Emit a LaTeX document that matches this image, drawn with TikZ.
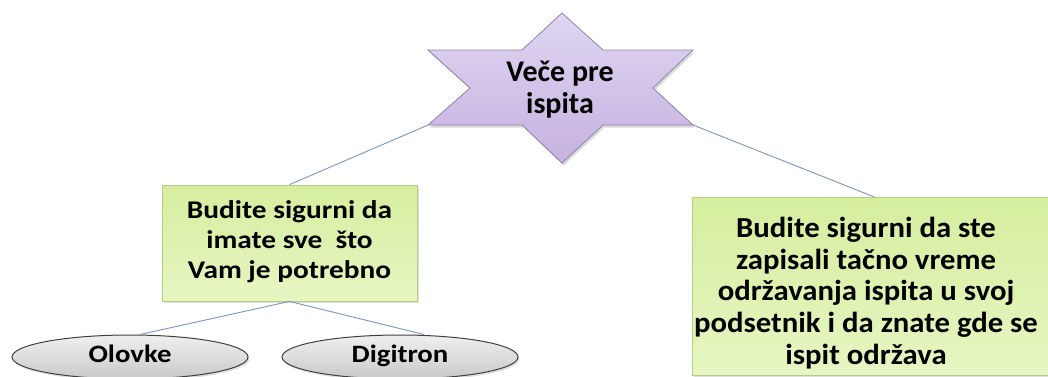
\documentclass[tikz,border=0pt]{standalone}
\usepackage{fontspec}
\setmainfont{Carlito}
\newfontfamily\wfont[FakeStretch=1.15]{Carlito}
\newfontfamily\rfont[FakeStretch=1.06]{Carlito}
\usetikzlibrary{shadows,shapes.geometric}
\definecolor{conn}{HTML}{7A95C2}
\definecolor{gtop}{HTML}{D6EE9F}
\definecolor{gbot}{HTML}{E6F6C2}
\definecolor{gedge}{HTML}{B4D07E}
\definecolor{stop}{HTML}{DFD5F1}
\definecolor{sbot}{HTML}{C5B2E0}
\definecolor{sedge}{HTML}{9283AE}
\definecolor{etop}{HTML}{EFEFEF}
\definecolor{ebot}{HTML}{C9C9C9}
\tikzset{
  gbox/.style={rectangle, draw=gedge, line width=0.8pt, top color=gtop, bottom color=gbot,
    drop shadow={shadow xshift=1.5pt, shadow yshift=-2pt, opacity=0.25}},
  ebox/.style={ellipse, draw=black!75, line width=1pt, top color=etop, bottom color=ebot,
    minimum width=236pt, minimum height=44pt, inner sep=0pt, text height=14pt, text depth=3pt,
    drop shadow={shadow xshift=1.5pt, shadow yshift=-2pt, opacity=0.25},
    font=\wfont\fontsize{25}{28}\selectfont\bfseries},
  txt/.style={align=center, inner sep=0pt, font=\wfont\fontsize{25.5}{30}\selectfont\bfseries},
  rtxt/.style={align=center, inner sep=0pt, font=\rfont\fontsize{29}{31.6}\selectfont\bfseries},
  conline/.style={draw=conn, line width=0.9pt},
}
\begin{document}
\begin{tikzpicture}[x=1pt,y=-1pt]
\useasboundingbox (0,0) rectangle (1048,376);
% star
\coordinate (sT) at (562,13);
\coordinate (sR1) at (603,50);
\coordinate (sRU) at (693,50);
\coordinate (sRM) at (653,88);
\coordinate (sRL) at (693,125);
\coordinate (sR2) at (603,125);
\coordinate (sB) at (562,163);
\coordinate (sL2) at (522,125);
\coordinate (sLL) at (428,125);
\coordinate (sLM) at (470,88);
\coordinate (sLU) at (428,50);
\coordinate (sL1) at (522,50);
\path[draw=sedge, line width=0.8pt, top color=stop, bottom color=sbot,
  drop shadow={shadow xshift=1.5pt, shadow yshift=-2.5pt, opacity=0.3}]
  (sT) -- (sR1) -- (sRU) -- (sRM) -- (sRL) -- (sR2) -- (sB) -- (sL2) -- (sLL) -- (sLM) -- (sLU) -- (sL1) -- cycle;
\node[align=center, inner sep=0pt, font=\fontsize{30}{32}\selectfont\bfseries] (star) at (560,90) {Veče pre\\ispita};
% left box
\node[gbox, minimum width=255pt, minimum height=116pt, inner sep=0pt] (lb) at (289.5,243) {};
\node[txt] (lbt) at (289.5,242) {Budite sigurni da\\imate sve\ \ što\\Vam je potrebno};
% right box
\node[gbox, minimum width=364pt, minimum height=178pt, inner sep=0pt, anchor=north west] (rb) at (692,197) {};
\node[rtxt] (rbt) at (866,293) {Budite sigurni da ste\\zapisali tačno vreme\\održavanja ispita u svoj\\podsetnik i da znate gde se\\ispit održava};
% ellipses
\node[ebox] (ol) at (130,357) {Olovke};
\node[ebox] (dg) at (400,357) {Digitron};
% connectors
\draw[conline] (sLL) -- (lb.north);
\draw[conline] (sRL) -- (rb.north);
\draw[conline] (lb.south) -- ([xshift=10pt]ol.north);
\draw[conline] (lb.south) -- ([xshift=24pt]dg.north);
\end{tikzpicture}
\end{document}
